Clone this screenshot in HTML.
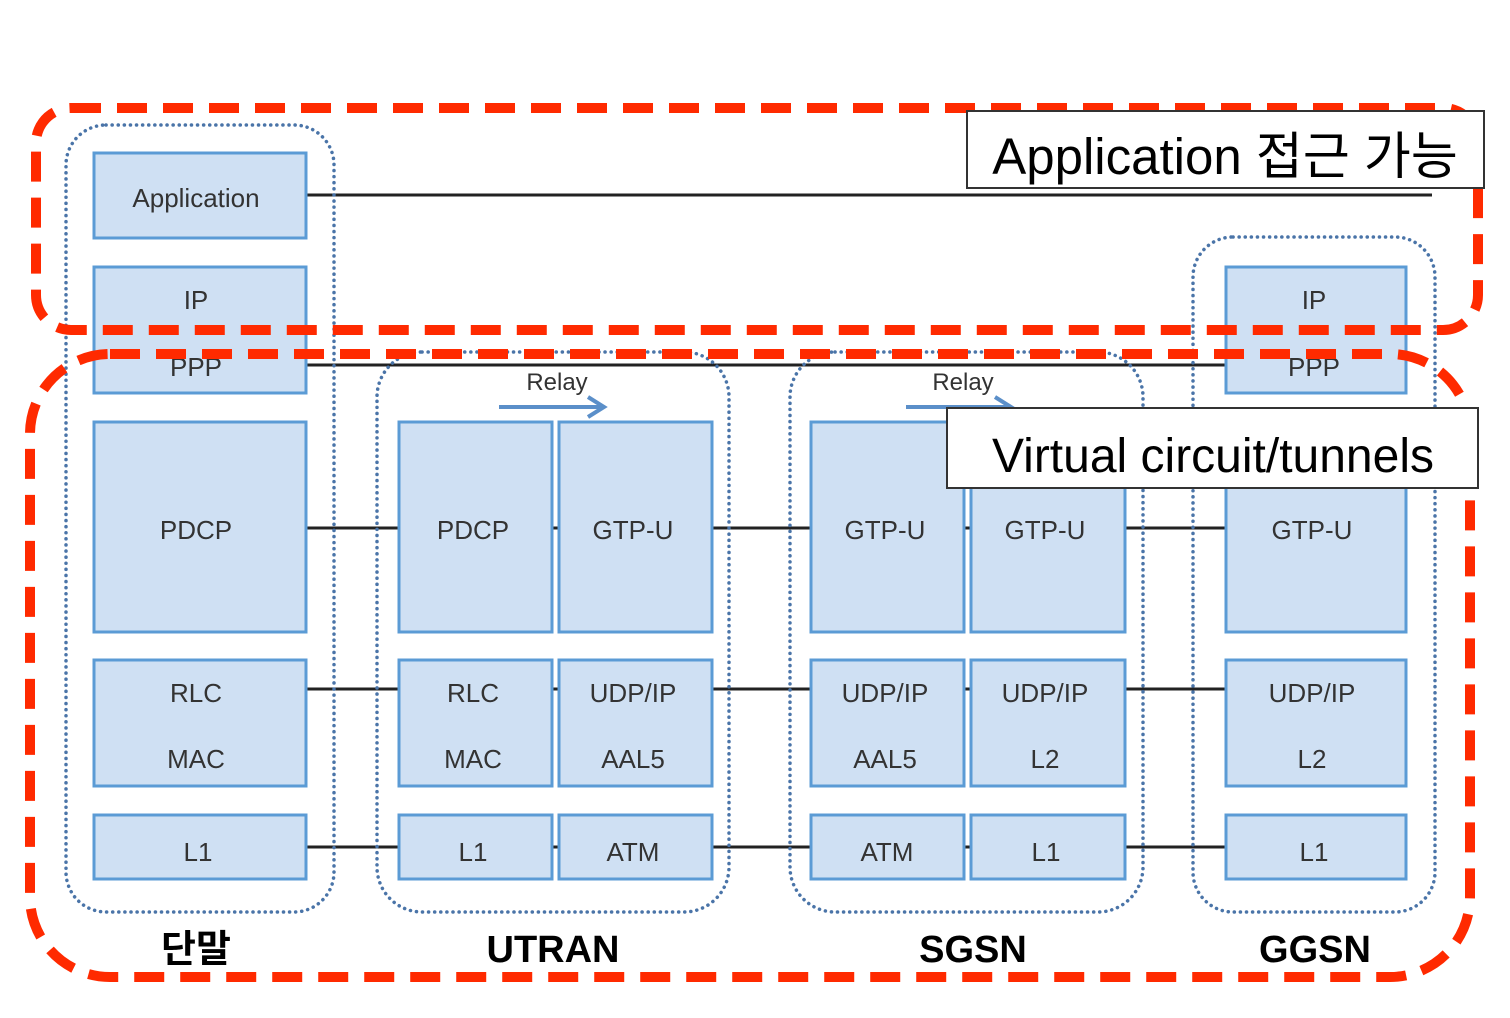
<!DOCTYPE html>
<html><head><meta charset="utf-8"><style>
html,body{margin:0;padding:0;background:#fff;width:1510px;height:1018px;overflow:hidden}
svg text{font-family:"Liberation Sans","Noto Sans CJK KR",sans-serif}
</style></head><body>
<svg width="1510" height="1018" viewBox="0 0 1510 1018" xmlns="http://www.w3.org/2000/svg">
<g stroke="#222" stroke-width="3">
<line x1="306" y1="195" x2="1432" y2="195"/>
<line x1="306" y1="365" x2="1226" y2="365"/>
<line x1="306" y1="528" x2="1226" y2="528"/>
<line x1="306" y1="689" x2="1226" y2="689"/>
<line x1="306" y1="847" x2="1226" y2="847"/>
</g>
<g fill="none" stroke="#4a74a8" stroke-width="3.5" stroke-dasharray="0.1 6" stroke-linecap="round">
<rect x="66" y="125" width="268" height="787" rx="40"/>
<rect x="377" y="352" width="352" height="560" rx="45"/>
<rect x="790" y="352" width="353" height="560" rx="45"/>
<rect x="1193" y="237" width="242" height="675" rx="40"/>
</g>
<g fill="#cfe0f3" stroke="#5b9bd5" stroke-width="3">
<rect x="94" y="153" width="212" height="85"/>
<rect x="94" y="267" width="212" height="126"/>
<rect x="94" y="422" width="212" height="210"/>
<rect x="94" y="660" width="212" height="126"/>
<rect x="94" y="815" width="212" height="64"/>
<rect x="399" y="422" width="153" height="210"/>
<rect x="559" y="422" width="153" height="210"/>
<rect x="399" y="660" width="153" height="126"/>
<rect x="559" y="660" width="153" height="126"/>
<rect x="399" y="815" width="153" height="64"/>
<rect x="559" y="815" width="153" height="64"/>
<rect x="811" y="422" width="153" height="210"/>
<rect x="971" y="422" width="154" height="210"/>
<rect x="811" y="660" width="153" height="126"/>
<rect x="971" y="660" width="154" height="126"/>
<rect x="811" y="815" width="153" height="64"/>
<rect x="971" y="815" width="154" height="64"/>
<rect x="1226" y="267" width="180" height="126"/>
<rect x="1226" y="422" width="180" height="210"/>
<rect x="1226" y="660" width="180" height="126"/>
<rect x="1226" y="815" width="180" height="64"/>
</g>
<g font-size="26" fill="#333" text-anchor="middle">
<text x="196" y="207">Application</text>
<text x="196" y="309">IP</text><text x="196" y="376">PPP</text>
<text x="196" y="539">PDCP</text>
<text x="196" y="702">RLC</text><text x="196" y="768">MAC</text>
<text x="198" y="861">L1</text>
<text x="473" y="539">PDCP</text><text x="633" y="539">GTP-U</text>
<text x="473" y="702">RLC</text><text x="473" y="768">MAC</text>
<text x="633" y="702">UDP/IP</text><text x="633" y="768">AAL5</text>
<text x="473" y="861">L1</text><text x="633" y="861">ATM</text>
<text x="885" y="539">GTP-U</text><text x="1045" y="539">GTP-U</text>
<text x="885" y="702">UDP/IP</text><text x="885" y="768">AAL5</text>
<text x="1045" y="702">UDP/IP</text><text x="1045" y="768">L2</text>
<text x="887" y="861">ATM</text><text x="1046" y="861">L1</text>
<text x="1314" y="309">IP</text><text x="1314" y="376">PPP</text>
<text x="1312" y="539">GTP-U</text>
<text x="1312" y="702">UDP/IP</text><text x="1312" y="768">L2</text>
<text x="1314" y="861">L1</text>
<text x="557" y="390" font-size="24">Relay</text>
<text x="963" y="390" font-size="24">Relay</text>
</g>
<g stroke="#5b8fc9" stroke-width="4" fill="none">
<line x1="499" y1="407" x2="604" y2="407"/><polyline points="588,397 604,407 588,417"/>
<line x1="906" y1="407" x2="1011" y2="407"/><polyline points="995,397 1011,407 995,417"/>
</g>
<g fill="none" stroke="#ff2a00" stroke-width="10" stroke-dasharray="30 16">
<rect x="36" y="108" width="1442" height="222" rx="35"/>
<rect x="30" y="354" width="1440" height="623" rx="80"/>
</g>
<rect x="967" y="111" width="517" height="77" fill="#fff" stroke="#333" stroke-width="2"/>
<text x="1225" y="174" font-size="51" text-anchor="middle" fill="#000">Application 접근 가능</text>
<rect x="947" y="408" width="531" height="80" fill="#fff" stroke="#333" stroke-width="2"/>
<text x="1213" y="472" font-size="48" text-anchor="middle" fill="#000">Virtual circuit/tunnels</text>
<g font-size="38" text-anchor="middle" fill="#000" font-weight="bold">
<text x="196" y="962">단말</text>
<text x="553" y="962">UTRAN</text>
<text x="973" y="962">SGSN</text>
<text x="1315" y="962">GGSN</text>
</g>
</svg>
</body></html>
